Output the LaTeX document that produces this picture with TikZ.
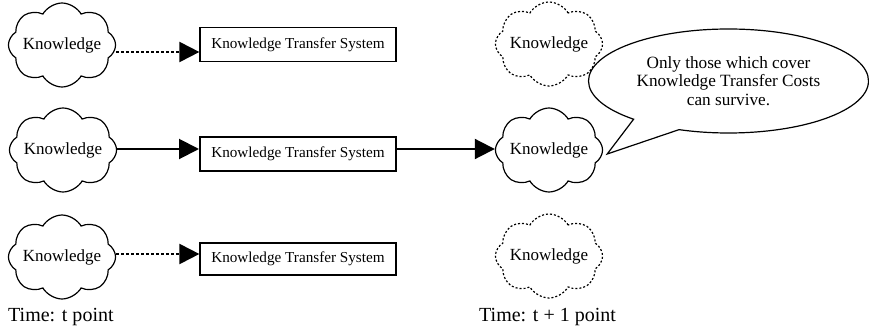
\documentclass[tikz,border=0pt]{standalone}
\usepackage{fontspec}
\setmainfont{Liberation Serif}
\usetikzlibrary{shapes.symbols,shapes.callouts,arrows.meta}
\tikzset{
  knowcloud/.style={cloud, cloud puffs=8, cloud puff arc=120, aspect=1.5,
    cloud ignores aspect, minimum width=102pt, minimum height=84pt, inner sep=0pt,
    line width=1.2pt, font=\fontsize{17}{18}\selectfont},
  solidcloud/.style={knowcloud, draw},
  faintcloud/.style={knowcloud, draw, dash pattern=on 2pt off 2pt},
  ktsbox/.style={draw, line width=1.2pt, minimum width=196pt, minimum height=34pt,
    inner sep=0pt, font=\fontsize{15.2}{17}\selectfont},
  flow/.style={line width=2pt, -{Triangle[length=20pt,width=20pt]}},
  weakflow/.style={flow, dash pattern=on 3pt off 2pt},
  timelabel/.style={anchor=base west, inner sep=0pt, font=\fontsize{20}{22}\selectfont}
}
\begin{document}
\begin{tikzpicture}[x=1pt,y=-1pt]
\useasboundingbox (0,0) rectangle (869,326);

% knowledge at time t
\node[solidcloud] (c1) at (62,45)  {Knowledge};
\node[solidcloud] (c2) at (63,150) {Knowledge};
\node[solidcloud] (c3) at (62,257) {Knowledge};

% transfer systems
\node[ktsbox] (b1) at (298,44.5) {Knowledge Transfer System};
\node[ktsbox, line width=2pt] (b2) at (298,154) {Knowledge Transfer System};
\node[ktsbox, minimum height=32pt] (b3) at (298,259) {Knowledge Transfer System};

% knowledge at time t+1
\node[faintcloud] (r1) at (549,44)  {Knowledge};
\node[solidcloud] (r2) at (549,150) {Knowledge};
\node[faintcloud] (r3) at (549,256) {Knowledge};

% flows
\draw[weakflow] ([yshift=-7pt]c1.east) -- ([yshift=-7.5pt]b1.west);
\draw[flow] ([yshift=1pt]c2.east) -- ([yshift=5pt]b2.west);
\draw[flow] ([yshift=5pt]b2.east) -- ([yshift=1pt]r2.west);
\draw[weakflow] ([yshift=3pt]c3.east) -- ([yshift=5pt]b3.west);

% remark on survival
\node[ellipse callout, draw, line width=1.2pt, minimum width=280pt, minimum height=104pt,
  inner sep=0pt, callout pointer arc=22,
  callout absolute pointer={([xshift=4pt,yshift=-4pt]r2.east)},
  align=center, font=\fontsize{17.2}{18.5}\selectfont] (note) at (728.5,81)
  {Only those which cover\\Knowledge Transfer Costs\\can survive.};

% time axis labels
\node[timelabel] (t0) at (8,321) {Time: t point};
\node[timelabel] (t1) at (479,321) {Time: t + 1 point};
\end{tikzpicture}
\end{document}
